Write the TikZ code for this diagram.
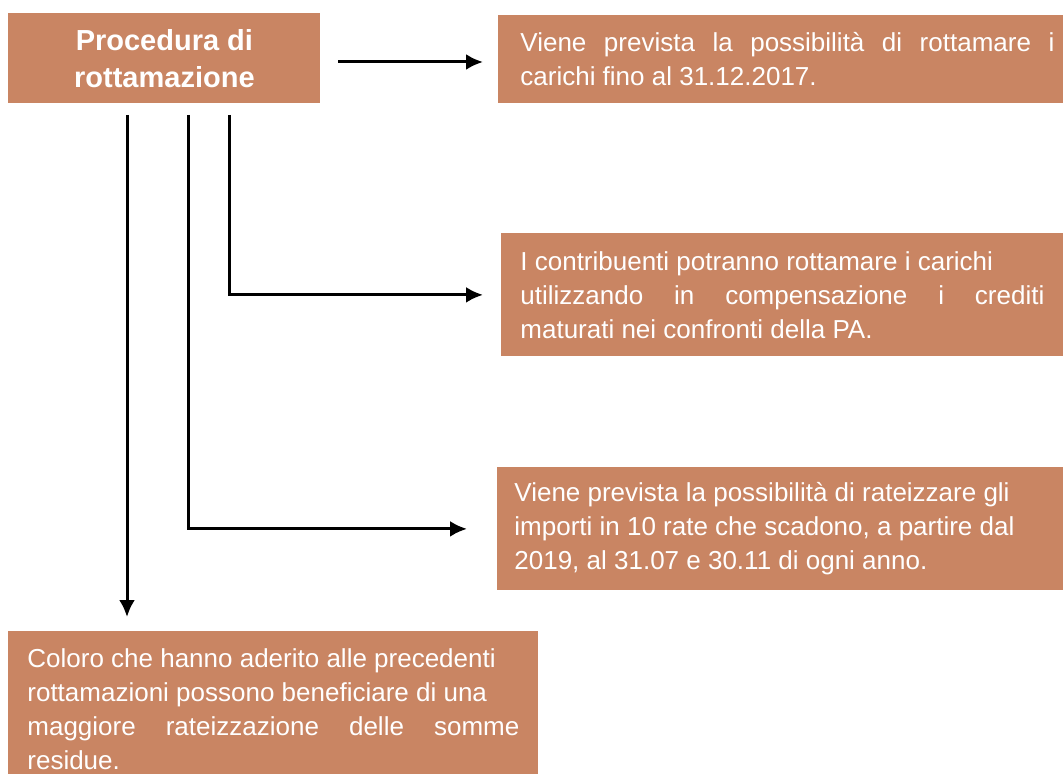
\documentclass[tikz,border=0pt]{standalone}
\usepackage{fontspec}
\setmainfont{Liberation Sans}
\usetikzlibrary{arrows.meta}
\definecolor{terracotta}{RGB}{201,133,99}
\begin{document}
\begin{tikzpicture}[>={Latex[length=8.5pt,width=8pt]}, x=0.5pt, y=-0.5pt,
  infobox/.style={anchor=north west, fill=terracotta, text=white, align=justify,
    inner ysep=0pt, font=\fontsize{13}{17}\selectfont},
  conn/.style={->, line width=1.5pt}]
\useasboundingbox (0,0) rectangle (1063,774);
\node[infobox, align=center, minimum width=156pt, minimum height=45pt,
  font=\bfseries\fontsize{14.5}{18.5}\selectfont] (proc) at (8,13) {Procedura di\\rottamazione};
\node[infobox, inner xsep=11pt, text width=267pt, minimum height=44pt] (carichi) at (498,15)
  {Viene prevista la possibilità di rottamare i\linebreak carichi fino al 31.12.2017.};
\node[infobox, inner xsep=9.5pt, text width=262pt, minimum height=61.5pt] (crediti) at (501,233)
  {I contribuenti potranno rottamare i carichi\\utilizzando in compensazione i crediti\linebreak maturati nei confronti della PA.};
\node[infobox, inner xsep=8.5pt, text width=266pt, minimum height=61.5pt] (rate) at (497,467)
  {Viene prevista la possibilità di rateizzare gli\\importi in 10 rate che scadono, a partire dal\\2019, al 31.07 e 30.11 di ogni anno.};
\node[infobox, inner xsep=9.5pt, text width=246pt, minimum height=78pt] (residue) at (8,631)
  {Coloro che hanno aderito alle precedenti\\rottamazioni possono beneficiare di una\\maggiore rateizzazione delle somme\linebreak residue.};
% connectors
\coordinate (p1) at (127,115);
\coordinate (p2) at (188,115);
\coordinate (p3) at (229,115);
\coordinate (p0) at (338,62);
\draw[conn, shorten >=7.5pt] (p0) -- (p0 -| carichi.west);
\draw[conn, shorten >=9pt] (p3) |- (crediti.west);
\draw[conn, shorten >=15pt] (p2) |- (rate.west);
\draw[conn, shorten >=7pt] (p1) -- (p1 |- residue.north);
\end{tikzpicture}
\end{document}
